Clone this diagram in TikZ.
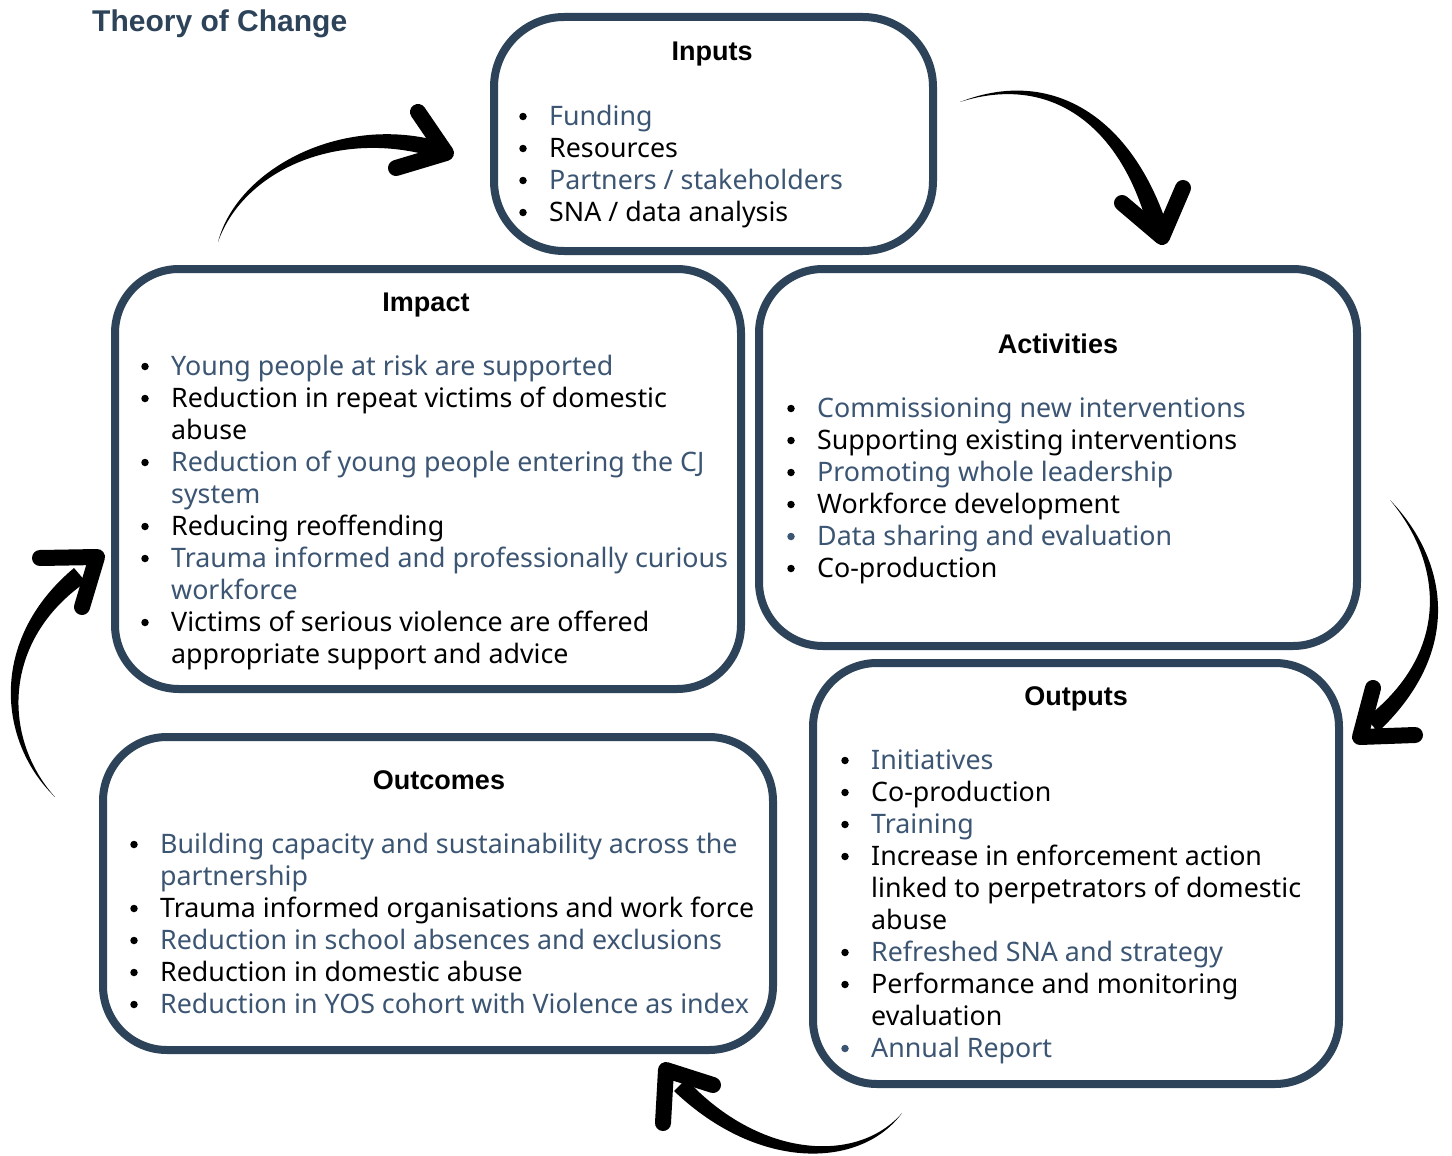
\documentclass[tikz,border=0pt]{standalone}
\usepackage{fontspec}
\setmainfont{Noto Sans}
\newfontfamily\hfont{Liberation Sans}
\definecolor{navy}{HTML}{2D4359}
\definecolor{tblue}{HTML}{3B5573}
\newcommand{\bitem}[6]{%
  \node[bul, fill=#5] (#1b) at (#2-26,#3-8.5) {};
  \node[itm, text=#4] (#1) at (#2,#3) {#6};}
\newcommand{\contline}[5]{%
  \node[itm, text=#4] (#1) at (#2,#3) {#5};}
\begin{document}
\begin{tikzpicture}[x=1pt,y=-1pt,
  box/.style={draw=navy, line width=8pt, rounded corners=64pt, inner sep=0pt},
  head/.style={font=\hfont\bfseries\fontsize{27}{32}\selectfont, anchor=base, inner sep=0pt},
  itm/.style={font=\fontsize{26.8}{32}\selectfont, anchor=base west, inner sep=0pt},
  bul/.style={circle, inner sep=0pt, minimum size=7.5pt},
  brush/.style={fill=black, draw=none},
  chev/.style={draw=black, line width=16pt, line cap=round, line join=round}]
\useasboundingbox (0,0) rectangle (1452,1156);
\fill[white] (0,0) rectangle (1452,1156);

% title
\node[font=\hfont\bfseries\fontsize{30}{32}\selectfont, text=navy, anchor=base west, inner sep=0pt] (title) at (92,32) {Theory of Change};

% boxes
\node[box, rounded corners=70pt, minimum width=439pt, minimum height=234pt] (inputs) at (713.5,134) {};
\node[box, minimum width=626pt, minimum height=420pt] (impact) at (428,479) {};
\node[box, minimum width=598pt, minimum height=377pt] (activities) at (1058,457.5) {};
\node[box, minimum width=526pt, minimum height=421pt] (outputs) at (1076,873.5) {};
\node[box, minimum width=670pt, minimum height=313pt] (outcomes) at (438,893.5) {};

% Inputs
\node[head] (inputsh) at (712,61) {Inputs};
\bitem{in1}{549}{125}{tblue}{black}{Funding}
\bitem{in2}{549}{157}{black}{black}{Resources}
\bitem{in3}{549}{189}{tblue}{black}{Partners / stakeholders}
\bitem{in4}{549}{221}{black}{black}{SNA / data analysis}

% Impact
\node[head] (impacth) at (426,311) {Impact};
\bitem{im1}{171}{375}{tblue}{black}{Young people at risk are supported}
\bitem{im2}{171}{407}{black}{black}{Reduction in repeat victims of domestic}
\contline{im2c}{171}{439}{black}{abuse}
\bitem{im3}{171}{471}{tblue}{black}{Reduction of young people entering the CJ}
\contline{im3c}{171}{503}{tblue}{system}
\bitem{im4}{171}{535}{black}{black}{Reducing reoffending}
\bitem{im5}{171}{567}{tblue}{black}{Trauma informed and professionally curious}
\contline{im5c}{171}{599}{tblue}{workforce}
\bitem{im6}{171}{631}{black}{black}{Victims of serious violence are offered}
\contline{im6c}{171}{663}{black}{appropriate support and advice}

% Activities
\node[head] (activitiesh) at (1058,353) {Activities};
\bitem{ac1}{817}{417}{tblue}{black}{Commissioning new interventions}
\bitem{ac2}{817}{449}{black}{black}{Supporting existing interventions}
\bitem{ac3}{817}{481}{tblue}{black}{Promoting whole leadership}
\bitem{ac4}{817}{513}{black}{black}{Workforce development}
\bitem{ac5}{817}{545}{tblue}{tblue}{Data sharing and evaluation}
\bitem{ac6}{817}{577}{black}{black}{Co-production}

% Outputs
\node[head] (outputsh) at (1076,705) {Outputs};
\bitem{ou1}{871}{769}{tblue}{black}{Initiatives}
\bitem{ou2}{871}{801}{black}{black}{Co-production}
\bitem{ou3}{871}{833}{tblue}{black}{Training}
\bitem{ou4}{871}{865}{black}{black}{Increase in enforcement action}
\contline{ou4c}{871}{897}{black}{linked to perpetrators of domestic}
\contline{ou4d}{871}{929}{black}{abuse}
\bitem{ou5}{871}{961}{tblue}{black}{Refreshed SNA and strategy}
\bitem{ou6}{871}{993}{black}{black}{Performance and monitoring}
\contline{ou6c}{871}{1025}{black}{evaluation}
\bitem{ou7}{871}{1057}{tblue}{tblue}{Annual Report}

% Outcomes
\node[head] (outcomesh) at (439,789) {Outcomes};
\bitem{oc1}{160}{853}{tblue}{black}{Building capacity and sustainability across the}
\contline{oc1c}{160}{885}{tblue}{partnership}
\bitem{oc2}{160}{917}{black}{black}{Trauma informed organisations and work force}
\bitem{oc3}{160}{949}{tblue}{black}{Reduction in school absences and exclusions}
\bitem{oc4}{160}{981}{black}{black}{Reduction in domestic abuse}
\bitem{oc5}{160}{1013}{tblue}{black}{Reduction in YOS cohort with Violence as index}

% brush arrows
% Impact -> Inputs
\fill[brush] (218,242) .. controls (237,169) and (342,113) .. (442,142) -- (438,158) .. controls (338,127) and (243,171) .. (218,242) -- cycle;
\draw[chev] (418,112) -- (446,153) -- (396,168);
% Inputs -> Activities
\fill[brush] (960,102) .. controls (1049,67) and (1129,114) .. (1166,222) -- (1148,228) .. controls (1121,126) and (1051,73) .. (960,102) -- cycle;
\draw[chev] (1122,203) -- (1162,237) -- (1183,188);
% Activities -> Outputs
\fill[brush] (1390,500) .. controls (1446,558) and (1466,649) .. (1378,732) -- (1366,718) .. controls (1452,651) and (1442,562) .. (1390,500) -- cycle;
\draw[chev] (1373,688) -- (1360,737) -- (1415,735);
% Outputs -> Outcomes
\fill[brush] (902,1113) .. controls (862,1168) and (760,1173) .. (674,1091) -- (686,1079) .. controls (760,1159) and (858,1164) .. (902,1113) -- cycle;
\draw[chev] (713,1085) -- (666,1070) -- (663,1123);
% Outcomes -> Impact
\fill[brush] (55,797) .. controls (-2,742) and (-12,640) .. (74,568) -- (86,582) .. controls (2,640) and (2,738) .. (55,797) -- cycle;
\draw[chev] (40,558) -- (97,557) -- (82,607);
\end{tikzpicture}
\end{document}
